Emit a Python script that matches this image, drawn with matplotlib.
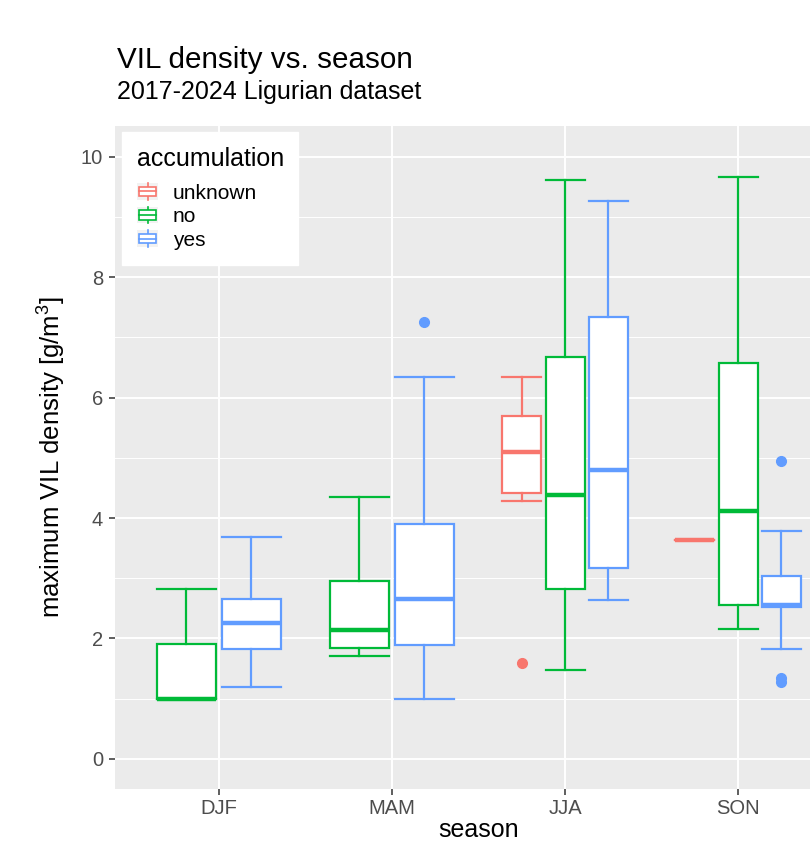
import matplotlib
matplotlib.use("Agg")
import matplotlib.pyplot as plt
from matplotlib.legend_handler import HandlerBase
from matplotlib.lines import Line2D
from matplotlib.patches import Rectangle

plt.rcParams["font.family"] = ["Liberation Sans", "DejaVu Sans"]
plt.rcParams["mathtext.fontset"] = "custom"
plt.rcParams["mathtext.rm"] = "Liberation Sans"
plt.rcParams["mathtext.default"] = "regular"

# Seasons and accumulation groups
seasons = ["DJF", "MAM", "JJA", "SON"]
groups = ["unknown", "no", "yes"]
group_colors = {"unknown": "#F8766D", "no": "#00BA38", "yes": "#619CFF"}

# Five-number summaries per season/group: (whislo, q1, median, q3, whishi)
summary_DJF = {
    "no": (1.00, 1.00, 1.00, 1.90, 2.82),
    "yes": (1.20, 1.82, 2.25, 2.66, 3.69),
}
summary_MAM = {
    "no": (1.71, 1.84, 2.14, 2.96, 4.35),
    "yes": (0.99, 1.89, 2.66, 3.90, 6.35),
}
summary_JJA = {
    "unknown": (4.29, 4.41, 5.09, 5.70, 6.35),
    "no": (1.47, 2.82, 4.39, 6.68, 9.61),
    "yes": (2.64, 3.17, 4.80, 7.33, 9.26),
}
summary_SON = {
    "unknown": (3.63, 3.63, 3.63, 3.63, 3.63),
    "no": (2.16, 2.56, 4.12, 6.58, 9.66),
    "yes": (1.83, 2.53, 2.55, 3.03, 3.79),
}

# Outlying observations
outliers_MAM = {"yes": [7.26]}
outliers_JJA = {"unknown": [1.59]}
outliers_SON = {"yes": [4.94, 1.35, 1.28]}

summaries = {"DJF": summary_DJF, "MAM": summary_MAM, "JJA": summary_JJA, "SON": summary_SON}
outliers = {"MAM": outliers_MAM, "JJA": outliers_JJA, "SON": outliers_SON}

title = "VIL density vs. season"
subtitle = "2017-2024 Ligurian dataset"

W, H = 810, 846
fig = plt.figure(figsize=(W / 100, H / 100), dpi=100)
fig.patch.set_facecolor("white")

pl, pr, pt, pb = 115, 842, 126, 789
ax = fig.add_axes([pl / W, 1 - pb / H, (pr - pl) / W, (pb - pt) / H])
ax.set_facecolor("#EBEBEB")
for s in ax.spines.values():
    s.set_visible(False)

dodge = 0.75
for si, season in enumerate(seasons):
    present = [g for g in groups if g in summaries[season]]
    n = len(present)
    slot = dodge / n
    for gi, g in enumerate(present):
        lo, q1, med, q3, hi = summaries[season][g]
        pos = si + 1 + (gi - (n - 1) / 2) * slot
        w = slot * 0.9
        stats = [dict(med=med, q1=q1, q3=q3, whislo=lo, whishi=hi,
                      fliers=outliers.get(season, {}).get(g, []))]
        c = group_colors[g]
        ax.bxp(stats, positions=[pos], widths=[w], capwidths=[w],
               patch_artist=True, manage_ticks=False,
               boxprops=dict(facecolor="white", edgecolor=c, linewidth=1.6),
               medianprops=dict(color=c, linewidth=3.2, solid_capstyle="butt"),
               whiskerprops=dict(color=c, linewidth=1.6),
               capprops=dict(color=c, linewidth=1.6),
               flierprops=dict(marker="o", markerfacecolor=c, markeredgecolor=c,
                               markersize=7, linestyle="none"),
               zorder=3)

ax.set_xlim(0.4, 4.6)
ax.set_ylim(-0.5, 10.51)
ax.set_xticks(range(1, len(seasons) + 1))
ax.set_xticklabels(seasons)
ax.set_yticks([0, 2, 4, 6, 8, 10])
ax.set_yticks([1, 3, 5, 7, 9], minor=True)
ax.grid(which="major", color="white", linewidth=1.4, zorder=0)
ax.grid(which="minor", axis="y", color="white", linewidth=0.7, zorder=0)
ax.set_axisbelow(True)
ax.tick_params(axis="both", which="major", colors="#333333", length=4.5, width=1.1,
               labelsize=14.5, labelcolor="#4D4D4D", pad=3)
ax.tick_params(axis="y", which="major", pad=4)
ax.tick_params(axis="y", which="minor", length=0)

ax.set_xlabel("season", fontsize=18, color="black")
ax.xaxis.set_label_coords(0.5, -0.043)
ax.set_ylabel("maximum VIL density [g/m$^3$]", fontsize=18.5, color="black")
ax.yaxis.set_label_coords(-0.0647, 0.5)

fig.text(117 / W, 1 - 68 / H, title, fontsize=21.3, ha="left", va="baseline")
fig.text(117 / W, 1 - 99 / H, subtitle, fontsize=18, ha="left", va="baseline")


class BoxKey(HandlerBase):
    def create_artists(self, legend, orig_handle, xdescent, ydescent,
                       width, height, fontsize, trans):
        c = orig_handle.get_color()
        x0, y0 = -xdescent, -ydescent
        bx, bw = x0 + width * 0.12, width * 0.76
        by, bh = y0 + height * 0.22, height * 0.56
        xm = x0 + width / 2
        arts = [
            Rectangle((x0, y0), width, height, facecolor="#F2F2F2", edgecolor="none",
                      transform=trans),
            Line2D([xm, xm], [by + bh, y0 + height], color=c, lw=1.2, transform=trans),
            Line2D([xm, xm], [y0, by], color=c, lw=1.2, transform=trans),
            Rectangle((bx, by), bw, bh, facecolor="white", edgecolor=c, lw=1.2,
                      transform=trans),
            Line2D([bx, bx + bw], [by + bh / 2] * 2, color=c, lw=1.2, transform=trans),
        ]
        return arts


handles = [Line2D([], [], color=group_colors[g]) for g in groups]
leg = ax.legend(handles, groups, title="accumulation", loc="upper left",
                bbox_to_anchor=((122 - pl) / (pr - pl), (pb - 132) / (pb - pt)),
                handler_map={Line2D: BoxKey()}, frameon=True, fancybox=False,
                framealpha=1, edgecolor="white", facecolor="white",
                fontsize=15, title_fontsize=18, alignment="left",
                handlelength=1.05, handleheight=0.85, handletextpad=0.7,
                labelspacing=0.2, borderpad=0.7, borderaxespad=0)
leg._legend_box.sep = 9
leg.set_zorder(5)

fig.savefig("out.png", dpi=100)
